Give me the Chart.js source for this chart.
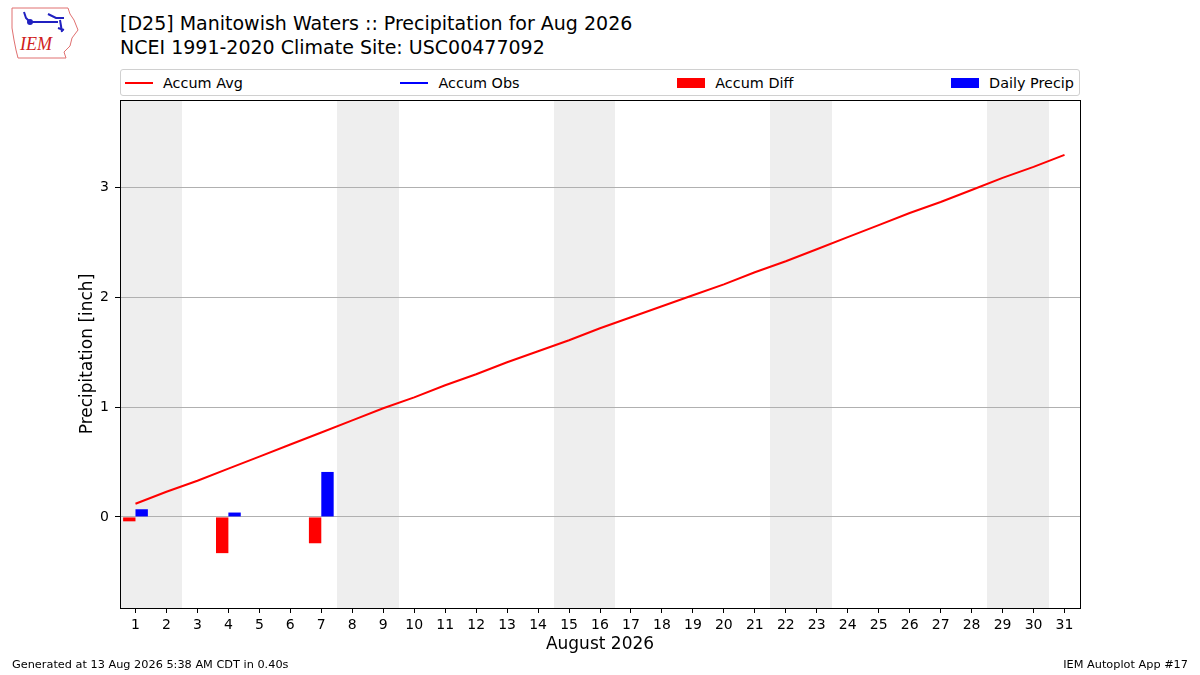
<!DOCTYPE html>
<html>
<head>
<meta charset="utf-8">
<script src="https://cdn.jsdelivr.net/npm/chart.js@4"></script>
<style>
  body { margin: 0; background: #fff; font-family: "DejaVu Sans", sans-serif; }
  #wrap { position: relative; width: 1200px; height: 675px; overflow: hidden; }
  #c { position: absolute; left: 0; top: 0; }
  .title { position: absolute; left: 120px; font-size: 19px; color: #000; white-space: nowrap; }
  #legend {
    position: absolute; left: 120px; top: 69px; width: 960px; height: 27px;
    border: 1px solid #d0d0d0; border-radius: 3px; box-sizing: border-box;
    display: flex; justify-content: space-between; align-items: center;
    padding: 0 5px 0 4px; font-size: 14.4px; background: #fff;
  }
  .item { display: flex; align-items: center; white-space: nowrap; }
  .item span.h { display: inline-block; width: 28px; margin-right: 10px; }
  .foot { position: absolute; top: 658px; font-size: 11.3px; color: #000; white-space: nowrap; }
</style>
</head>
<body>
<div id="wrap">
  <svg style="position:absolute;left:8px;top:4px" width="72" height="56" viewBox="0 0 72 56">
    <path d="M4 4 L60 4 L62 10 L66 16 L70 26 L64 34 L62 42 L56 48 L58 54 L10 54 L8 46 L6 36 L4 24 Z"
          fill="none" stroke="#e07070" stroke-width="1"/>
    <path d="M16 8 L18 14 L22 18 M20 18 L50 18 M40 10 L48 14 L56 14 M52 16 L54 28 M50 24 L56 26"
          fill="none" stroke="#2020c0" stroke-width="2"/>
    <circle cx="22" cy="18" r="3" fill="#2020c0"/>
    <text x="12" y="46" font-family="Liberation Serif, serif" font-style="italic" font-size="18" fill="#d02020">IEM</text>
  </svg>
  <div class="title" style="top:12px">[D25] Manitowish Waters :: Precipitation for Aug 2026</div>
  <div class="title" style="top:36px">NCEI 1991-2020 Climate Site: USC00477092</div>
  <div id="legend"></div>
  <canvas id="c" width="1200" height="675"></canvas>
  <div class="foot" style="left:12px">Generated at 13 Aug 2026 5:38 AM CDT in 0.40s</div>
  <div class="foot" style="right:12px">IEM Autoplot App #17</div>
</div>
<script>
// days of August 2026
const days = [1, 2, 3, 4, 5, 6, 7, 8, 9, 10, 11, 12, 13, 14, 15, 16,
  17, 18, 19, 20, 21, 22, 23, 24, 25, 26, 27, 28, 29, 30, 31];
// climatology accumulated average
const accumAvg = [0.12, 0.23, 0.33, 0.44, 0.55, 0.66, 0.77, 0.88, 0.99, 1.09,
  1.20, 1.30, 1.41, 1.51, 1.61, 1.72, 1.82, 1.92, 2.02, 2.12,
  2.23, 2.33, 2.44, 2.55, 2.66, 2.77, 2.87, 2.98, 3.09, 3.19, 3.30];
const accumObs = [];
const accumDiff = [-0.04, null, null, -0.33, null, null, -0.24];
const dailyPrecip = [0.07, null, null, 0.04, null, null, 0.41];
// weekends as [first, last] day
const weekends = [[1, 2], [8, 9], [15, 16], [22, 23], [29, 30]];
const yTicks = [0, 1, 2, 3];

const RED = "#ff0000";
const BLUE = "#0000ff";

// shade weekends behind everything, frame the plot
const shading = {
  id: "shading",
  beforeDraw(chart) {
    const ctx = chart.ctx, a = chart.chartArea, x = chart.scales.x;
    const w = (a.right - a.left) / days.length;
    ctx.save();
    ctx.fillStyle = "#eeeeee";
    weekends.forEach(([d0, d1]) => {
      const x0 = Math.round(x.getPixelForValue(days.indexOf(d0)) - w / 2);
      const x1 = Math.round(x.getPixelForValue(days.indexOf(d1)) + w / 2);
      ctx.fillRect(x0, a.top, x1 - x0, a.bottom - a.top);
    });
    ctx.restore();
  },
  afterDraw(chart) {
    const ctx = chart.ctx, a = chart.chartArea;
    ctx.save();
    ctx.strokeStyle = "#000";
    ctx.lineWidth = 1;
    ctx.strokeRect(a.left + 0.5, a.top + 0.5, a.right - a.left, a.bottom - a.top);
    ctx.restore();
  }
};

const chart = new Chart(document.getElementById("c"), {
  type: "bar",
  data: {
    labels: days,
    datasets: [
      { type: "line", label: "Accum Avg", data: accumAvg, borderColor: RED, backgroundColor: RED,
        borderWidth: 2, pointRadius: 0, tension: 0 },
      { type: "line", label: "Accum Obs", data: accumObs, borderColor: BLUE, backgroundColor: BLUE,
        borderWidth: 2, pointRadius: 0 },
      { label: "Accum Diff", data: accumDiff, backgroundColor: RED,
        categoryPercentage: 0.8, barPercentage: 1.0 },
      { label: "Daily Precip", data: dailyPrecip, backgroundColor: BLUE,
        categoryPercentage: 0.8, barPercentage: 1.0 }
    ]
  },
  options: {
    responsive: false,
    animation: false,
    layout: { padding: { left: 0, top: 100, right: 120, bottom: 0 } },
    plugins: { legend: { display: false }, tooltip: { enabled: false } },
    scales: {
      x: {
        offset: true,
        grid: { display: true, drawOnChartArea: false, offset: false, tickLength: 5, tickColor: "#000" },
        border: { display: false },
        ticks: { color: "#000", font: { family: "DejaVu Sans", size: 14 }, padding: 4, maxRotation: 0, autoSkip: false },
        title: { display: true, text: "August 2026", color: "#000",
          font: { family: "DejaVu Sans", size: 17 }, padding: { top: 0, bottom: 20 } },
        afterFit(s) { s.height = 67; }
      },
      y: {
        min: -0.83, max: 3.80,
        afterBuildTicks(s) { s.ticks = yTicks.map(v => ({ value: v })); },
        grid: { color: "#b0b0b0", tickColor: "#000", tickLength: 5 },
        border: { display: false },
        ticks: { color: "#000", font: { family: "DejaVu Sans", size: 14 }, padding: 6 },
        title: { display: true, text: "Precipitation [inch]", color: "#000",
          font: { family: "DejaVu Sans", size: 17 }, padding: { top: 77, bottom: 0 } },
        afterFit(s) { s.width = 120; }
      }
    }
  },
  plugins: [shading]
});

// legend laid out like the original, built from the datasets
const leg = document.getElementById("legend");
chart.data.datasets.forEach(ds => {
  const isLine = ds.type === "line";
  const item = document.createElement("div");
  item.className = "item";
  const h = document.createElement("span");
  h.className = "h";
  h.style.height = isLine ? "2px" : "10px";
  h.style.background = ds.backgroundColor;
  item.appendChild(h);
  item.appendChild(document.createTextNode(ds.label));
  leg.appendChild(item);
});
</script>
</body>
</html>
